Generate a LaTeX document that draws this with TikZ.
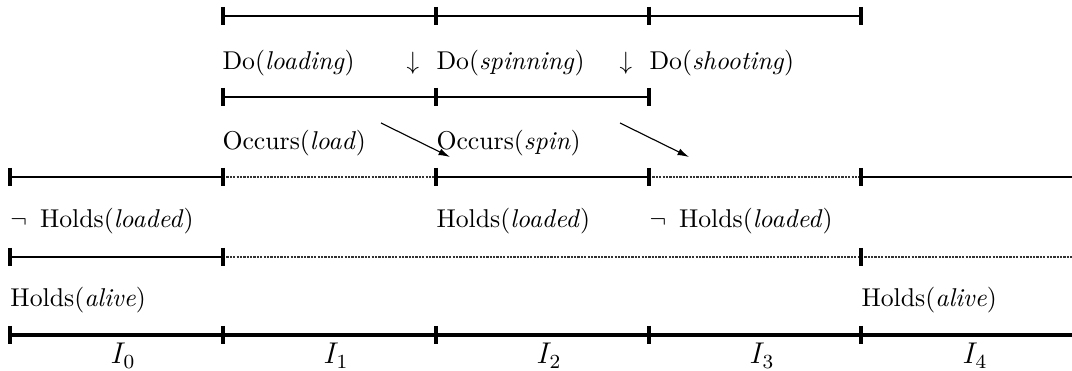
\documentclass[tikz,border=0pt]{standalone}
\usetikzlibrary{arrows.meta}
\begin{document}
\begin{tikzpicture}[x=0.4pt,y=-0.4pt,
  seg/.style={line width=1.15pt},
  thickseg/.style={line width=1.45pt},
  dots/.style={line width=1.1pt, dash pattern=on 0.9pt off 0.45pt, black!80},
  tickmark/.style={line width=1.5pt},
  lab/.style={anchor=base west, inner sep=0pt, font=\fontsize{10.3}{12}\selectfont},
  ilab/.style={anchor=base, inner sep=0pt, font=\fontsize{12}{14}\selectfont},
  effect/.style={line width=0.45pt, -{Latex[length=4.6pt,width=2.8pt]}}]
\useasboundingbox (0,0) rectangle (1072,371);
% row 1: actions
\draw[seg] (223,16) -- (861,16);
\foreach \x in {223,436,649,861} \draw[tickmark] (\x,7) -- (\x,25);
\node[lab] (do1) at (222,70) {Do(\textit{loading})};
\node[lab] (dn1) at (406,70) {$\downarrow$};
\node[lab] (do2) at (436,70) {Do(\textit{spinning})};
\node[lab] (dn2) at (619,70) {$\downarrow$};
\node[lab] (do3) at (649,70) {Do(\textit{shooting})};
% row 2: occurrences
\draw[seg] (223,97) -- (649,97);
\foreach \x in {223,436,649} \draw[tickmark] (\x,88) -- (\x,106);
\node[lab] (oc1) at (222,150) {Occurs(\textit{load})};
\node[lab] (oc2) at (436,150) {Occurs(\textit{spin})};
\coordinate (e1s) at (381,123);
\coordinate (e1e) at (450,157);
\coordinate (e2s) at (620,123);
\coordinate (e2e) at (689,157);
\draw[effect] (e1s) -- (e1e);
\draw[effect] (e2s) -- (e2e);
% row 3: loaded
\draw[seg] (10,177) -- (223,177);
\draw[dots] (223,177) -- (436,177);
\draw[seg] (436,177) -- (649,177);
\draw[dots] (649,177) -- (861,177);
\draw[seg] (861,177) -- (1072,177);
\foreach \x in {10,223,436,649,861} \draw[tickmark] (\x,168) -- (\x,186);
\node[lab] (hl1) at (10,228) {$\neg$\,\ Holds(\textit{loaded})};
\node[lab] (hl2) at (436,228) {Holds(\textit{loaded})};
\node[lab] (hl3) at (649,228) {$\neg$\,\ Holds(\textit{loaded})};
% row 4: alive
\draw[seg] (10,257) -- (223,257);
\draw[dots] (223,257) -- (1072,257);
\foreach \x in {10,223,861} \draw[tickmark] (\x,248) -- (\x,266);
\node[lab] (ha1) at (10,307) {Holds(\textit{alive})};
\node[lab] (ha2) at (861,307) {Holds(\textit{alive})};
% row 5: intervals
\draw[thickseg] (10,335) -- (1072,335);
\foreach \x in {10,223,436,649,861} \draw[tickmark] (\x,326) -- (\x,344);
\node[ilab] (i0) at (123,364) {$I_0$};
\node[ilab] (i1) at (336,364) {$I_1$};
\node[ilab] (i2) at (549,364) {$I_2$};
\node[ilab] (i3) at (762,364) {$I_3$};
\node[ilab] (i4) at (975,364) {$I_4$};
\end{tikzpicture}
\end{document}
